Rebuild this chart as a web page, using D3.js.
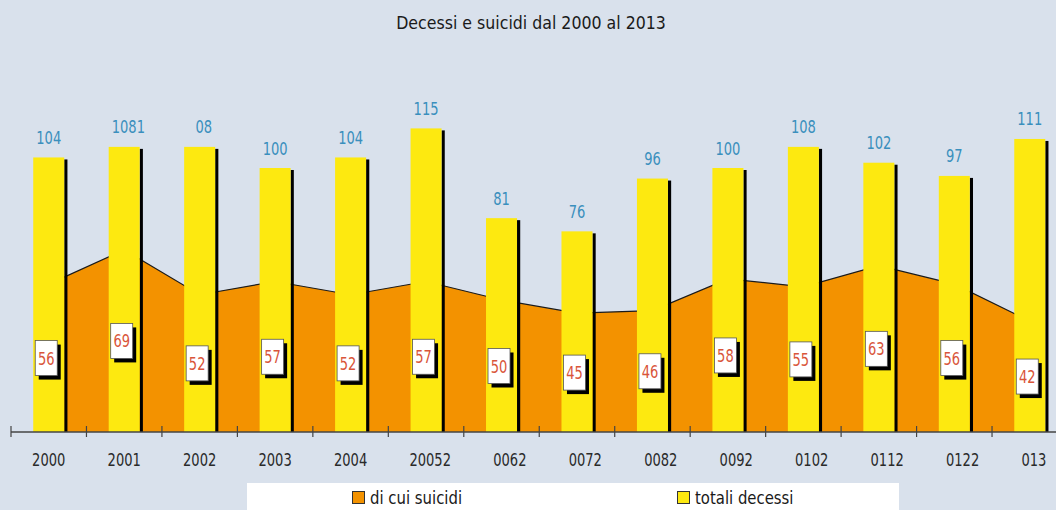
<!DOCTYPE html>
<html>
<head>
<meta charset="utf-8">
<script src="https://cdn.jsdelivr.net/npm/d3@7"></script>
<style>
  html, body { margin: 0; padding: 0; background: #D9E1EC; }
  svg { display: block; }
  text { font-family: "Liberation Sans Narrow", "DejaVu Sans Condensed", "Roboto Condensed", sans-serif; }
</style>
</head>
<body>
<svg id="chart" width="1056" height="510"></svg>
<script>
// ---- data ----
const years = ["2000","2001","2002","2003","2004","2005","2006","2007","2008","2009","2010","2011","2012","2013"];
const xLabels = ["2000","2001","2002","2003","2004","20052","0062","0072","0082","0092","0102","0112","0122","013"];
const totaliDecessi = [104,108,108,100,104,115,81,76,96,100,108,102,97,111];
const totaliLabels = ["104","1081","08","100","104","115","81","76","96","100","108","102","97","111"];
const suicidi = [56,69,52,57,52,57,50,45,46,58,55,63,56,42];
const title = "Decessi e suicidi dal 2000 al 2013";
const legendLabels = ["di cui suicidi","totali decessi"];

// ---- style ----
const W = 1056, H = 510;
const colYellow = "#FDE910", colOrange = "#F39200", colBlue = "#3A8FBD", colRed = "#D9553A";
const NUM_SIZE = 17.5, NUM_SX = 0.83;

const svg = d3.select("#chart");
svg.append("rect").attr("width", W).attr("height", H).attr("fill", "#D9E1EC");

const x = d3.scaleBand().domain(years).range([11, 1067.5]).paddingInner(0).paddingOuter(0);
const y = d3.scaleLinear().domain([0, 120]).range([432, 115.2]);
const cx = d => x(d) + x.bandwidth() / 2;
const barW = 31;

// measurement helper
const measure = svg.append("text").attr("opacity", 0);
function textW(str, size) {
  measure.attr("font-size", size).text(str);
  return measure.node().getComputedTextLength();
}
// condensed text: group translated to (tx,ty) and scaled horizontally
function addText(parent, str, tx, ty, size, anchor, fill, sx) {
  const g = parent.append("g").attr("transform", `translate(${tx},${ty}) scale(${sx},1)`);
  g.append("text").attr("x", 0).attr("y", 0).attr("text-anchor", anchor)
    .attr("font-size", size).attr("fill", fill).text(str);
  return g;
}
// place a (possibly garbled) label relative to where its true text would be centred
function placeLabel(parent, label, trueText, c, ty, size, fill, sx) {
  const w = textW(trueText, size) * sx;
  if (label === trueText) return addText(parent, label, c, ty, size, "middle", fill, sx);
  if (label.startsWith(trueText)) return addText(parent, label, c - w / 2, ty, size, "start", fill, sx);
  if (trueText.endsWith(label)) return addText(parent, label, c + w / 2, ty, size, "end", fill, sx);
  const w1 = textW(trueText[0], size) * sx;
  return addText(parent, label, c - w / 2 + w1, ty, size, "start", fill, sx);
}

// title
addText(svg, title, 531, 29, 18.5, "middle", "#1a1a1a", 0.95);

// area of suicides
const pts = years.map((d, i) => [cx(d), y(suicidi[i])]);
const area = d3.area().x(p => p[0]).y0(y(0)).y1(p => p[1]);
const line = d3.line().x(p => p[0]).y(p => p[1]);
svg.append("path").attr("d", area(pts)).attr("fill", colOrange);
svg.append("path").attr("d", line(pts)).attr("fill", "none").attr("stroke", "#1a1a1a").attr("stroke-width", 1.2);

// bars with shadow
const bars = svg.append("g");
years.forEach((d, i) => {
  const bx = cx(d) - barW / 2;
  const top = y(totaliDecessi[i]);
  bars.append("rect").attr("x", bx + barW).attr("y", top + 2).attr("width", 3.2)
    .attr("height", y(0) - top - 2).attr("fill", "#000");
  bars.append("rect").attr("x", bx).attr("y", top).attr("width", barW)
    .attr("height", y(0) - top).attr("fill", colYellow);
  placeLabel(bars, totaliLabels[i], String(totaliDecessi[i]), cx(d), top - 13.5, NUM_SIZE, colBlue, NUM_SX);
});

// suicide value boxes
const boxW = 22, boxH = 35;
const boxes = svg.append("g");
years.forEach((d, i) => {
  const bcx = cx(d) - 2.5;
  const bcy = (y(suicidi[i]) + y(0)) / 2;
  boxes.append("rect").attr("x", bcx - boxW / 2 + 3.5).attr("y", bcy - boxH / 2 + 4)
    .attr("width", boxW).attr("height", boxH).attr("fill", "#000");
  boxes.append("rect").attr("x", bcx - boxW / 2).attr("y", bcy - boxH / 2)
    .attr("width", boxW).attr("height", boxH).attr("fill", "#fff")
    .attr("stroke", "#555").attr("stroke-width", 0.8);
  addText(boxes, String(suicidi[i]), bcx, bcy + 6.5, NUM_SIZE, "middle", colRed, NUM_SX);
});

// axis
const axisG = svg.append("g");
axisG.append("line").attr("x1", 11).attr("x2", W).attr("y1", 432).attr("y2", 432)
  .attr("stroke", "#444").attr("stroke-width", 1.6);
years.forEach(d => {
  axisG.append("line").attr("x1", x(d)).attr("x2", x(d)).attr("y1", 426).attr("y2", 437)
    .attr("stroke", "#444").attr("stroke-width", 1.2);
});
years.forEach((d, i) => {
  placeLabel(axisG, xLabels[i], d, cx(d), 466, NUM_SIZE, "#2a2a2a", NUM_SX);
});

// legend
svg.append("rect").attr("x", 247).attr("y", 483).attr("width", 652).attr("height", 30).attr("fill", "#fff");
const legendItems = [{label: legendLabels[0], color: colOrange, x: 352}, {label: legendLabels[1], color: colYellow, x: 677}];
legendItems.forEach(it => {
  svg.append("rect").attr("x", it.x + 0.5).attr("y", 491.5).attr("width", 12).attr("height", 12)
    .attr("fill", it.color).attr("stroke", "#333").attr("stroke-width", 1);
  addText(svg, it.label, it.x + 18, 504, 18, "start", "#1a1a1a", 0.92);
});
measure.remove();
</script>
</body>
</html>
